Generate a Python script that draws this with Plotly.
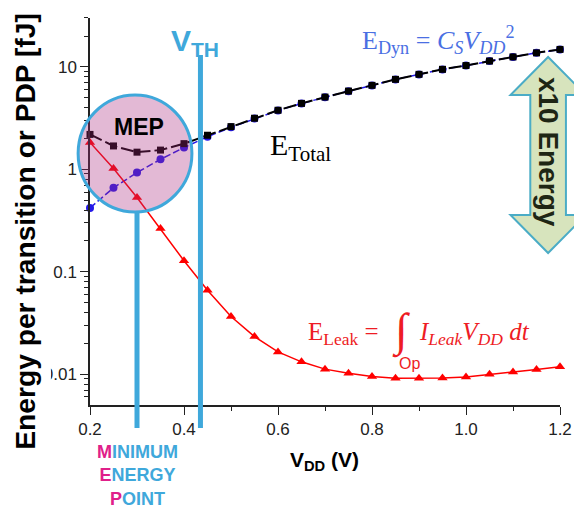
import plotly.graph_objects as go

# ---------------- data ----------------
vdd = [0.20, 0.25, 0.30, 0.35, 0.40, 0.45, 0.50, 0.55, 0.60, 0.65, 0.70,
       0.75, 0.80, 0.85, 0.90, 0.95, 1.00, 1.05, 1.10, 1.15, 1.20]
e_total = [2.19, 1.69, 1.47, 1.54, 1.78, 2.15, 2.61, 3.15, 3.77, 4.40, 5.07,
           5.80, 6.60, 7.55, 8.45, 9.46, 10.3, 11.4, 12.5, 13.7, 14.8]
e_dyn = [0.42, 0.66, 0.93, 1.25, 1.63, 2.08, 2.57, 3.13, 3.75, 4.39, 5.06,
         5.79, 6.59, 7.54, 8.44, 9.45, 10.3, 11.4, 12.5, 13.7, 14.8]
e_leak = [1.83, 1.02, 0.53, 0.264, 0.128, 0.066, 0.0366, 0.0233, 0.0165, 0.0132, 0.0112,
          0.0102, 0.0095, 0.0091, 0.0091, 0.0092, 0.0094, 0.0100, 0.0105, 0.0111, 0.0118]

x_ticks = [0.2, 0.4, 0.6, 0.8, 1.0, 1.2]
x_ticktext = ["0.2", "0.4", "0.6", "0.8", "1.0", "1.2"]
x_minor = [0.3, 0.5, 0.7, 0.9, 1.1]
y_ticks = [0.01, 0.1, 1, 10]
y_ticktext = ["0.01", "0.1", "1", "10"]
y_minor = [0.006, 0.007, 0.008, 0.009, 0.02, 0.03, 0.04, 0.05, 0.06, 0.07, 0.08, 0.09,
           0.2, 0.3, 0.4, 0.5, 0.6, 0.7, 0.8, 0.9, 2, 3, 4, 5, 6, 7, 8, 9, 20, 30]

mep_v = 0.30    # minimum energy point voltage
vth_v = 0.435   # threshold voltage

# ---------------- layout geometry (window pixels) ----------------
WIN_W, WIN_H = 582, 509
OFF = 8                      # default page body margin
L, R, T, B = 90, 565, 18, 405  # plot area in window pixels


def px(x):
    return (x - L) / (R - L)


def py(y):
    return (B - y) / (B - T)


SANS = "Liberation Sans, Arial, sans-serif"
SERIF = "Liberation Serif, Times New Roman, serif"
LBLUE = "#3FA8DB"

fig = go.Figure()
fig.add_trace(go.Scatter(
    x=vdd, y=e_dyn, mode="lines+markers",
    line=dict(color="#2418E8", width=1.5, dash="7px,3px"),
    marker=dict(symbol="circle", size=8, color="#2418E8"),
    showlegend=False, cliponaxis=False))
fig.add_trace(go.Scatter(
    x=vdd, y=e_leak, mode="lines+markers",
    line=dict(color="#FF0000", width=1.5),
    marker=dict(symbol="triangle-up", size=9, color="#FF0000"),
    showlegend=False, cliponaxis=False))
fig.add_trace(go.Scatter(
    x=vdd, y=e_total, mode="lines+markers",
    line=dict(color="#000000", width=2, dash="13px,4px"),
    marker=dict(symbol="square", size=7, color="#000000"),
    showlegend=False, cliponaxis=False))

shapes = []
# MEP circle (translucent fill + outline)
cx0, cx1, cy0, cy1 = px(78), px(193), py(212), py(95)
shapes.append(dict(type="circle", xref="paper", yref="paper", x0=cx0, x1=cx1, y0=cy0, y1=cy1,
                   fillcolor="rgb(169,41,126)", opacity=0.33, line=dict(width=0), layer="above"))
shapes.append(dict(type="circle", xref="paper", yref="paper", x0=cx0, x1=cx1, y0=cy0, y1=cy1,
                   fillcolor="rgba(0,0,0,0)", line=dict(color=LBLUE, width=3), layer="above"))
# vertical lines
shapes.append(dict(type="line", xref="x", yref="paper", x0=mep_v, x1=mep_v,
                   y0=py(428), y1=py(212), line=dict(color=LBLUE, width=5), layer="above"))
shapes.append(dict(type="line", xref="x", yref="paper", x0=vth_v, x1=vth_v,
                   y0=py(428), y1=py(55), line=dict(color=LBLUE, width=5), layer="above"))
# double arrow
ax, sh, hh = 553, 18, 38
pts = [(ax, 57), (ax + hh, 95), (ax + sh, 95), (ax + sh, 215), (ax + hh, 215), (ax, 253),
       (ax - hh, 215), (ax - sh, 215), (ax - sh, 95), (ax - hh, 95)]
path = "M " + " L ".join(f"{px(a):.4f},{py(b):.4f}" for a, b in pts) + " Z"
shapes.append(dict(type="path", xref="paper", yref="paper", path=path,
                   fillcolor="#D7E4BD", line=dict(color="#4BACC6", width=2), layer="above"))
# white patch that partly hides the "0.01" label (as in the original)
shapes.append(dict(type="rect", xref="paper", yref="paper", x0=px(OFF), x1=px(50.5),
                   y0=py(386), y1=py(362), fillcolor="white", line=dict(width=0), layer="above"))

ann = []


def A(text, x, y, size, color="#000", family=SANS, angle=0, **kw):
    ann.append(dict(text=text, x=px(x), y=py(y), xref="paper", yref="paper",
                    xanchor="center", yanchor="middle", showarrow=False, textangle=angle,
                    font=dict(size=size, color=color, family=family), **kw))


A("<b>Energy per transition or PDP [fJ]</b>", 24, 232, 28.2, angle=-90)
A("<b>V<sub>DD</sub> (V)</b>", 327, 461, 21)
A("<b>MEP</b>", 140, 127, 23)
A("<b>V<sub>TH</sub></b>", 196, 43, 30, color=LBLUE)
A("<b><span style='color:#E0208A'>M</span>INIMUM<br><span style='color:#E0208A'>E</span>NERGY<br>"
  "<span style='color:#E0208A'>P</span>OINT</b>", 138, 475, 18, color=LBLUE, align="center")
A("<b>x10 Energy</b>", 554, 152, 28, color="#1E2614", angle=90)
A("E<sub>Dyn</sub> = <i>C<sub>S</sub>V<sub>DD</sub></i><sup>2</sup>", 442, 40, 26, color="#4A6FE3", family=SERIF)
A("E<sub>Total</sub>", 303, 147, 30, family=SERIF)
RED = "#EE1C24"
A("E<sub>Leak</sub> =", 346, 333, 25, color=RED, family=SERIF)
A("∫", 404, 331, 46, color=RED, family=SERIF)
A("Op", 413, 363, 16, color=RED)
A("<i>I<sub>Leak</sub>V<sub>DD</sub></i> <i>dt</i>", 479, 333, 25, color=RED, family=SERIF)

fig_w, fig_h = WIN_W - OFF, WIN_H - OFF
fig.update_layout(
    width=fig_w, height=fig_h,
    margin=dict(l=L - OFF, r=WIN_W - R, t=T - OFF, b=WIN_H - B, pad=0),
    paper_bgcolor="white", plot_bgcolor="white",
    shapes=shapes, annotations=ann, showlegend=False,
    xaxis=dict(range=[0.2, 1.2], tickmode="array", tickvals=x_ticks, ticktext=x_ticktext,
               ticks="outside", ticklen=8, tickwidth=1.3, tickcolor="#222",
               minor=dict(tickmode="array", tickvals=x_minor, ticks="outside", ticklen=4,
                          tickwidth=1.3, tickcolor="#222"),
               showline=True, linecolor="#222", linewidth=1.5, showgrid=False, zeroline=False,
               tickfont=dict(family=SANS, size=17, color="#222")),
    yaxis=dict(type="log", range=[-2.301, 1.477], tickmode="array", tickvals=y_ticks,
               ticktext=y_ticktext, ticks="outside", ticklen=8, tickwidth=1.3, tickcolor="#222",
               minor=dict(tickmode="array", tickvals=y_minor, ticks="outside", ticklen=4,
                          tickwidth=1.3, tickcolor="#222", showgrid=False),
               showline=True, linecolor="#222", linewidth=1.5, showgrid=False, zeroline=False,
               tickfont=dict(family=SANS, size=17, color="#222")),
)

fig.write_html("out.html")
